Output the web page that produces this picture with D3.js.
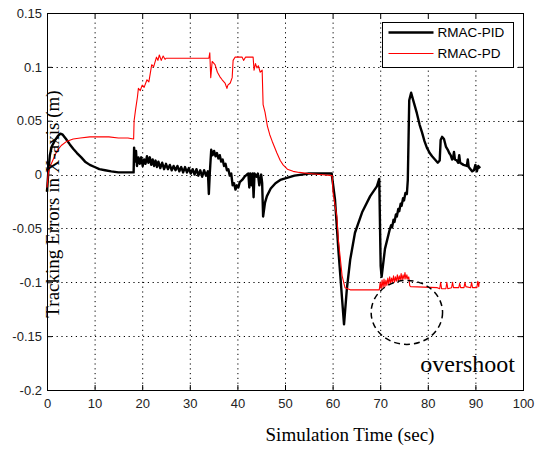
<!DOCTYPE html>
<html>
<head>
<meta charset="utf-8">
<script src="https://cdn.jsdelivr.net/npm/d3@7"></script>
<style>
    html, body { margin: 0; padding: 0; background: #fff; }
    svg { display: block; }
    .tick text { font-family: "Liberation Sans", Arial, sans-serif; font-size: 13px; fill: #222; }
    .axis path, .axis line { stroke: #000; }
    .grid line { stroke: #000; stroke-dasharray: 1.2,3.6; }
</style>
</head>
<body>
<div id="chart"></div>
<script>
// Data: [time (sec), tracking error (m)]
const pidSeries = [
    [0, -0.016], [0.3, 0.004], [0.6, 0.018], [1, 0.026], [1.7, 0.032], [2.3, 0.036], [2.8, 0.038],
    [3.3, 0.037], [4, 0.033], [4.8, 0.028], [5.5, 0.024], [6.3, 0.02], [7.2, 0.016], [8, 0.012],
    [9, 0.009], [10, 0.007], [11, 0.005], [12.2, 0.004], [13.5, 0.003], [15, 0.002], [16.5, 0.002],
    [18.2, 0.002], [18.3, 0.025], [18.5, 0.012], [18.7, 0.022], [18.9, 0.008], [19.2, 0.016],
    [19.5, 0.01], [19.8, 0.016], [20.1, 0.008], [20.4, 0.014], [20.7, 0.01], [21, 0.017],
    [21.3, 0.011], [21.6, 0.016], [21.9, 0.009], [22.2, 0.014], [22.5, 0.008], [22.8, 0.013],
    [23.1, 0.007], [23.4, 0.012], [23.8, 0.006], [24.2, 0.011], [24.6, 0.005], [25, 0.01],
    [25.4, 0.005], [25.8, 0.009], [26.2, 0.004], [26.6, 0.008], [27, 0.004], [27.4, 0.008],
    [27.8, 0.003], [28.2, 0.007], [28.6, 0.002], [29, 0.007], [29.4, 0.002], [29.8, 0.006],
    [30.2, 0.001], [30.6, 0.005], [31, 0], [31.4, 0.005], [31.8, -0.001], [32.2, 0.004],
    [32.6, -0.002], [33, 0.004], [33.4, -0.001], [33.8, 0.003], [34, -0.018], [34.2, 0.001],
    [34.5, 0.023], [34.8, 0.018], [35.1, 0.022], [35.4, 0.017], [35.7, 0.02], [36, 0.015],
    [36.3, 0.018], [36.6, 0.012], [36.9, 0.014], [37.2, 0.008], [37.5, 0.01], [37.8, 0.004],
    [38.1, 0.005], [38.4, -0.001], [38.7, 0.001], [39, -0.01], [39.3, -0.008], [39.6, -0.014],
    [39.9, -0.01], [40.2, -0.012], [40.5, -0.007], [41, -0.005], [41.5, -0.002], [42, 0],
    [42.3, 0.001], [42.5, -0.012], [42.7, 0.001], [43, -0.01], [43.2, 0.001], [43.4, -0.021],
    [43.6, 0.001], [44, -0.002], [44.3, 0.001], [44.6, -0.01], [45, 0], [45.2, -0.008],
    [45.4, -0.039], [45.8, -0.026], [46.2, -0.02], [47, -0.013], [48, -0.008], [49, -0.005],
    [50.4, -0.003], [52, -0.001], [53.5, 0], [55, 0.001], [57, 0.001], [59.8, 0.001],
    [60.5, -0.023], [61.2, -0.069], [62, -0.116], [62.4, -0.139], [63, -0.106], [63.7, -0.079],
    [64.7, -0.054], [66.2, -0.035], [67.9, -0.02], [69.3, -0.011], [69.8, -0.004], [70.1, -0.085],
    [70.3, -0.095], [71, -0.069], [72, -0.051], [72.3, -0.047], [72.5, -0.049], [72.8, -0.042],
    [73, -0.044], [73.3, -0.037], [73.5, -0.039], [73.8, -0.032], [74, -0.034], [74.3, -0.027],
    [74.5, -0.029], [74.8, -0.022], [75, -0.024], [75.3, -0.017], [75.6, -0.018], [75.8, -0.005],
    [76.1, 0.069], [76.5, 0.076], [77, 0.068], [77.7, 0.057], [78.3, 0.046], [78.8, 0.039],
    [79.3, 0.031], [79.8, 0.025], [80.4, 0.02], [80.9, 0.017], [81.5, 0.014], [82.1, 0.011],
    [82.5, 0.013], [82.7, 0.032], [83, 0.035], [83.4, 0.033], [83.8, 0.026], [84.2, 0.023],
    [84.5, 0.02], [84.8, 0.018], [85.1, 0.014], [85.3, 0.015], [85.5, 0.021], [85.7, 0.014],
    [86.1, 0.013], [86.4, 0.011], [86.6, 0.018], [86.8, 0.011], [87.5, 0.009], [88.2, 0.008],
    [88.4, 0.014], [88.6, 0.007], [89.3, 0.003], [89.7, 0.004], [90, 0.009], [90.3, 0.003],
    [90.6, 0.008], [91, 0.006]
];

const pdSeries = [
    [0, -0.012], [0.3, 0.002], [0.6, 0.007], [1, 0.011], [1.5, 0.016], [2.1, 0.022], [3, 0.027],
    [4.2, 0.031], [5.5, 0.033], [7, 0.034], [9, 0.035], [11, 0.035], [13, 0.035], [15, 0.034],
    [17, 0.034], [18.2, 0.033], [18.3, 0.05], [18.6, 0.06], [19, 0.072], [19.2, 0.08], [19.6, 0.078],
    [20, 0.083], [20.4, 0.081], [21, 0.088], [21.4, 0.086], [22, 0.102], [22.4, 0.1], [23, 0.109],
    [23.3, 0.106], [23.6, 0.111], [24, 0.106], [24.4, 0.11], [24.8, 0.107], [25, 0.108], [34, 0.108],
    [34.2, 0.113], [34.4, 0.09], [34.7, 0.105], [35.3, 0.102], [35.8, 0.095], [36.3, 0.091],
    [36.8, 0.088], [37.4, 0.085], [37.8, 0.08], [38, 0.083], [38.5, 0.085], [38.9, 0.09],
    [39.1, 0.106], [39.5, 0.109], [41, 0.109], [41.3, 0.106], [41.7, 0.109], [43.3, 0.109],
    [43.5, 0.097], [43.8, 0.103], [44.1, 0.099], [44.4, 0.101], [44.8, 0.095], [45.2, 0.097],
    [45.4, 0.065], [45.8, 0.058], [46.3, 0.045], [46.8, 0.037], [47.3, 0.031], [48.3, 0.02],
    [49, 0.013], [49.6, 0.009], [50.5, 0.005], [51.7, 0.003], [53, 0.002], [55, 0.001], [57.4, 0],
    [59.9, -0.001], [60.1, -0.017], [60.9, -0.039], [61.2, -0.06], [62, -0.094], [62.6, -0.105],
    [63.7, -0.107], [69.8, -0.107], [70, -0.1], [70.2, -0.106], [70.4, -0.098], [70.6, -0.105],
    [70.8, -0.097], [71, -0.104], [71.2, -0.098], [71.4, -0.103], [71.6, -0.096], [71.8, -0.102],
    [72, -0.095], [72.2, -0.101], [72.4, -0.096], [72.6, -0.1], [72.8, -0.094], [73, -0.1],
    [73.2, -0.095], [73.4, -0.099], [73.6, -0.093], [73.8, -0.099], [74, -0.094], [74.2, -0.098],
    [74.4, -0.092], [74.6, -0.098], [74.8, -0.093], [75, -0.097], [75.2, -0.091], [75.4, -0.097],
    [75.6, -0.093], [75.8, -0.097], [76, -0.095], [76.2, -0.103], [76.4, -0.104], [82, -0.105],
    [82.5, -0.106], [82.7, -0.1], [82.9, -0.106], [83.8, -0.106], [84, -0.1], [84.2, -0.106],
    [85, -0.105], [85.2, -0.1], [85.4, -0.105], [86.5, -0.105], [86.7, -0.101], [86.9, -0.105],
    [87.6, -0.105], [87.8, -0.1], [88, -0.104], [89, -0.105], [89.2, -0.1], [89.4, -0.105],
    [90.3, -0.105], [90.5, -0.099], [90.7, -0.104], [90.8, -0.1]
];

const seriesNames = ['RMAC-PID', 'RMAC-PD'];
const seriesColors = ['#000000', '#ff0000'];
const xTicks = [0, 10, 20, 30, 40, 50, 60, 70, 80, 90, 100];
const yTicks = [-0.2, -0.15, -0.1, -0.05, 0, 0.05, 0.1, 0.15];
const yTickLabels = ['-0.2', '-0.15', '-0.1', '-0.05', '0', '0.05', '0.1', '0.15'];
// overshoot marker: centre (sec, m) and radii (sec, m)
const overshootMark = { t: 75.6, v: -0.128, rt: 7.5, rv: 0.0297, label: 'overshoot' };

const width = 536, height = 451;
const margin = { top: 13, right: 13, bottom: 61, left: 47 };

const svg = d3.select('#chart')
    .append('svg')
    .attr('width', width)
    .attr('height', height);

const x = d3.scaleLinear().domain([0, 100]).range([margin.left, width - margin.right]);
const y = d3.scaleLinear().domain([-0.2, 0.15]).range([height - margin.bottom, margin.top]);

// Dotted grid
svg.append('g').attr('class', 'grid')
    .selectAll('line.v')
    .data(xTicks.slice(1, -1))
    .join('line')
    .attr('x1', d => x(d) + 0.5).attr('x2', d => x(d) + 0.5)
    .attr('y1', y.range()[1]).attr('y2', y.range()[0]);

svg.append('g').attr('class', 'grid')
    .selectAll('line.h')
    .data(yTicks.slice(1, -1))
    .join('line')
    .attr('y1', d => Math.round(y(d)) + 0.5).attr('y2', d => Math.round(y(d)) + 0.5)
    .attr('x1', x.range()[0]).attr('x2', x.range()[1]);

// Axes (MATLAB style: inward ticks on all four sides)
const fmtY = d => yTickLabels[yTicks.indexOf(d)];

svg.append('g').attr('class', 'axis')
    .attr('transform', `translate(0,${y.range()[0]})`)
    .call(d3.axisBottom(x).tickValues(xTicks).tickSize(-5).tickPadding(9).tickSizeOuter(0))
    .call(g => g.select('.domain').remove());

svg.append('g').attr('class', 'axis')
    .attr('transform', `translate(0,${y.range()[1]})`)
    .call(d3.axisTop(x).tickValues(xTicks).tickSize(-5).tickFormat('').tickSizeOuter(0))
    .call(g => g.select('.domain').remove());

svg.append('g').attr('class', 'axis')
    .attr('transform', `translate(${x.range()[0]},0)`)
    .call(d3.axisLeft(y).tickValues(yTicks).tickFormat(fmtY).tickSize(-5).tickPadding(5).tickSizeOuter(0))
    .call(g => g.select('.domain').remove());

svg.append('g').attr('class', 'axis')
    .attr('transform', `translate(${x.range()[1]},0)`)
    .call(d3.axisRight(y).tickValues(yTicks).tickFormat('').tickSize(-5).tickSizeOuter(0))
    .call(g => g.select('.domain').remove());

// Frame
svg.append('rect')
    .attr('x', x.range()[0] + 0.5)
    .attr('y', y.range()[1] + 0.5)
    .attr('width', x.range()[1] - x.range()[0])
    .attr('height', y.range()[0] - y.range()[1])
    .attr('fill', 'none')
    .attr('stroke', '#000');

// Series lines
const line = d3.line().x(d => x(d[0])).y(d => y(d[1]));

svg.append('path')
    .datum(pidSeries)
    .attr('d', line)
    .attr('fill', 'none')
    .attr('stroke', seriesColors[0])
    .attr('stroke-width', 2.4)
    .attr('stroke-linejoin', 'round');

svg.append('path')
    .datum(pdSeries)
    .attr('d', line)
    .attr('fill', 'none')
    .attr('stroke', seriesColors[1])
    .attr('stroke-width', 1.1)
    .attr('stroke-linejoin', 'round');

// Overshoot annotation
svg.append('ellipse')
    .attr('cx', x(overshootMark.t))
    .attr('cy', y(overshootMark.v))
    .attr('rx', x(overshootMark.t + overshootMark.rt) - x(overshootMark.t))
    .attr('ry', y(overshootMark.v) - y(overshootMark.v + overshootMark.rv))
    .attr('fill', 'none')
    .attr('stroke', '#000')
    .attr('stroke-width', 1.5)
    .attr('stroke-dasharray', '6,4');

svg.append('text')
    .attr('x', 515)
    .attr('y', 372)
    .attr('text-anchor', 'end')
    .style('font-family', '"Liberation Serif", "Times New Roman", serif')
    .style('font-size', '24px')
    .text(overshootMark.label);

// Legend
const legend = svg.append('g').attr('transform', 'translate(382.5,22.5)');
legend.append('rect')
    .attr('width', 131).attr('height', 45)
    .attr('fill', '#fff').attr('stroke', '#000');

legend.selectAll('g.item')
    .data(seriesNames)
    .join('g')
    .attr('transform', (d, i) => `translate(0,${10 + i * 21})`)
    .each(function (d, i) {
        const g = d3.select(this);
        g.append('line')
            .attr('x1', 6).attr('x2', 51)
            .attr('stroke', seriesColors[i])
            .attr('stroke-width', i === 0 ? 2.4 : 1.1);
        g.append('text')
            .attr('x', 55).attr('y', 0)
            .attr('dy', '0.35em')
            .style('font-family', '"Liberation Sans", Arial, sans-serif')
            .style('font-size', '13.5px')
            .text(d);
    });

// Axis labels
svg.append('text')
    .attr('x', 350)
    .attr('y', 441)
    .attr('text-anchor', 'middle')
    .style('font-family', '"Liberation Serif", "Times New Roman", serif')
    .style('font-size', '19px')
    .text('Simulation Time (sec)');

svg.append('text')
    .attr('transform', 'translate(59,204) rotate(-90)')
    .attr('text-anchor', 'middle')
    .style('font-family', '"Liberation Serif", "Times New Roman", serif')
    .style('font-size', '19px')
    .text('Tracking Errors in X-axis (m)');
</script>
</body>
</html>
